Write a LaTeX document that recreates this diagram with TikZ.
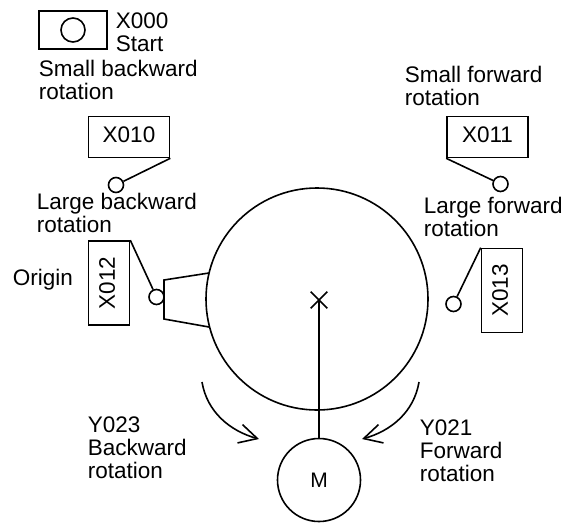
\documentclass[tikz,border=0pt]{standalone}
\usepackage{fontspec}
\setmainfont{Liberation Sans}
\usetikzlibrary{arrows.meta,shapes.misc}
\tikzset{>={Straight Barb[length=18pt,width=19pt]}}
\tikzset{font=\fontsize{22.5}{23}\selectfont}
\tikzset{every node/.style={line width=1.6pt}}
\tikzset{label/.style={anchor=base west, align=left, inner sep=0pt}}
\tikzset{switch/.style={draw, rectangle, text depth=4pt, minimum width=81pt, minimum height=41pt, inner sep=0pt}}
\tikzset{switchv/.style={draw, rectangle, rotate=90, text depth=4pt, minimum width=84pt, minimum height=41pt, inner sep=0pt}}
\tikzset{contact/.style={draw, circle, minimum size=15pt, inner sep=0pt}}

\begin{document}
\begin{tikzpicture}[x=1pt,y=-1pt,line width=1.6pt]
  \useasboundingbox (0,0) rectangle (569,522);
  % start button
  \node[draw, rectangle, line width=2.1pt, minimum width=68pt, minimum height=38pt] (start) at (73,30) {};
  \node[draw, circle, minimum size=24pt, inner sep=0pt] (lamp) at (73,30) {};
  \node[label] (startlabel) at (115,51) {X000\\Start};
  % wheel and motor
  \node[draw, circle, minimum size=222pt, inner sep=0pt] (wheel) at (317,299) {};
  \node[draw, circle, minimum size=83pt, inner sep=0pt] (motor) at (319,480) {\fontsize{21}{23}\selectfont M};
  \node[draw, cross out, minimum size=15pt, inner sep=0pt] (shaft) at (319,300) {};
  \draw (shaft.center) -- (motor);
  % origin dog
  \draw (209,273) -- (164,280) -- (164,319) -- (209,327);
  % limit switches
  \node[label] (smallback) at (38,99) {Small backward\\rotation};
  \node[switch] (x010) at (129,137) {X010};
  \node[contact] (p010) at (116,185) {};
  \draw (x010.south east) -- (p010);
  \node[label] (largeback) at (36,232) {Large backward\\rotation};
  \node[switchv] (x012) at (109,283) {X012};
  \node[contact] (p012) at (156.5,297) {};
  \draw (x012.south east) -- (p012);
  \node[label] (origin) at (12,285) {Origin};
  \node[label] (smallfwd) at (404,105) {Small forward\\rotation};
  \node[switch] (x011) at (487.5,137) {X011};
  \node[contact] (p011) at (500.5,184) {};
  \draw (x011.south west) -- (p011);
  \node[label] (largefwd) at (423,236) {Large forward\\rotation};
  \node[switchv] (x013) at (502,290.5) {X013};
  \node[contact] (p013) at (453.5,304) {};
  \draw (x013.north east) -- (p013);
  % rotation arrows
  \coordinate (backfrom) at (202,382);
  \coordinate (backto) at (259,439);
  \coordinate (fwdfrom) at (419,382);
  \coordinate (fwdto) at (362,439);
  \draw[->] (backfrom) .. controls (207,412) and (230,431) .. (backto);
  \draw[->] (fwdfrom) .. controls (414,412) and (391,431) .. (fwdto);
  \node[label] (y023) at (87,478) {Y023\\Backward\\rotation};
  \node[label] (y021) at (419,481) {Y021\\Forward\\rotation};
\end{tikzpicture}
\end{document}
